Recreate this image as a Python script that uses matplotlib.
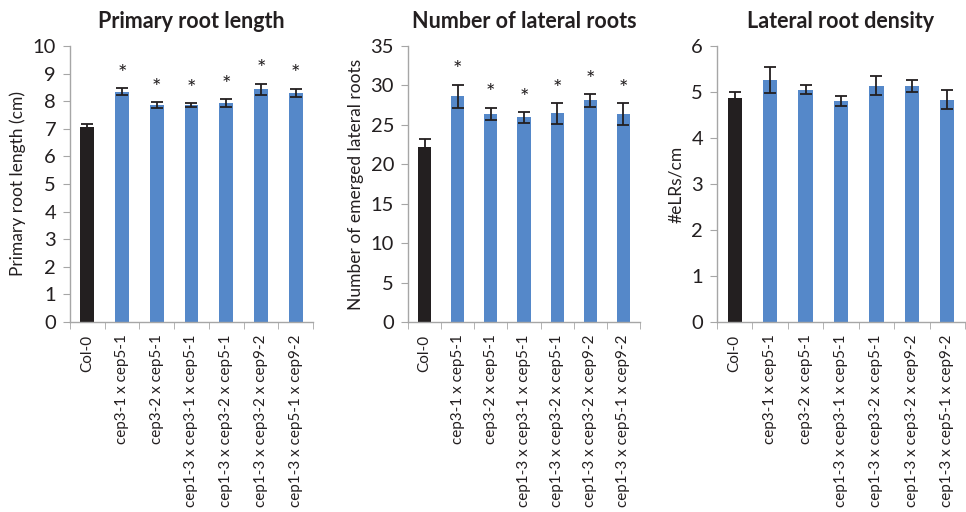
import numpy as np
import matplotlib
matplotlib.use("Agg")
import matplotlib.pyplot as plt

plt.rcParams['font.family'] = ['Lato', 'DejaVu Sans']

genotypes = ["Col-0", "cep3-1 x cep5-1", "cep3-2 x cep5-1",
             "cep1-3 x cep3-1 x cep5-1", "cep1-3 x cep3-2 x cep5-1",
             "cep1-3 x cep3-2 x cep9-2", "cep1-3 x cep5-1 x cep9-2"]

root_length = [7.08, 8.35, 7.87, 7.86, 7.93, 8.44, 8.31]
root_length_err = [0.11, 0.12, 0.11, 0.07, 0.15, 0.2, 0.15]
root_length_sig = [False, True, True, True, True, True, True]

lateral_roots = [22.2, 28.6, 26.4, 25.95, 26.45, 28.1, 26.35]
lateral_roots_err = [1.0, 1.5, 0.8, 0.7, 1.3, 0.85, 1.4]
lateral_roots_sig = [False, True, True, True, True, True, True]

lr_density = [4.87, 5.26, 5.05, 4.81, 5.14, 5.13, 4.83]
lr_density_err = [0.12, 0.29, 0.1, 0.11, 0.2, 0.13, 0.21]
lr_density_sig = [False] * 7

BLUE = "#5588c9"
BLACK = "#231f20"
SPINE = "#a6a6a6"
TEXT = "#231f20"

W, H = 966, 512
fig = plt.figure(figsize=(W / 100, H / 100), dpi=100)

panels = [
    dict(title="Primary root length", ylabel="Primary root length (cm)",
         vals=root_length, err=root_length_err, sig=root_length_sig,
         ylim=10, step=1, box=(70, 313)),
    dict(title="Number of lateral roots", ylabel="Number of emerged lateral roots",
         vals=lateral_roots, err=lateral_roots_err, sig=lateral_roots_sig,
         ylim=35, step=5, box=(408, 640)),
    dict(title="Lateral root density", ylabel="#eLRs/cm",
         vals=lr_density, err=lr_density_err, sig=lr_density_sig,
         ylim=6, step=1, box=(717, 965)),
]

top_px, bottom_px = 46, 322

for p in panels:
    l, r = p["box"]
    ax = fig.add_axes([l / W, 1 - bottom_px / H, (r - l) / W, (bottom_px - top_px) / H])
    x = np.arange(len(genotypes))
    colors = [BLACK] + [BLUE] * (len(genotypes) - 1)
    ax.bar(x, p["vals"], width=0.4, color=colors, zorder=2)
    ax.errorbar(x, p["vals"], yerr=p["err"], fmt="none", ecolor=BLACK,
                elinewidth=1.3, capsize=4, capthick=1.3, zorder=3)
    for xi, v, e, s in zip(x, p["vals"], p["err"], p["sig"]):
        if s:
            ax.annotate("*", (xi, v + e), xytext=(0, 3), textcoords="offset points",
                        ha="center", va="bottom", fontsize=16, color=TEXT)
    ax.set_xlim(-0.5, len(genotypes) - 0.5)
    ax.set_ylim(0, p["ylim"])
    ax.set_yticks(np.arange(0, p["ylim"] + 0.001, p["step"]))
    ax.set_xticks(x)
    ax.set_xticklabels(genotypes, rotation=90, fontsize=11, color=TEXT)
    ax.set_xticks(np.arange(-0.5, len(genotypes), 1), minor=True)
    ax.tick_params(axis="x", which="major", length=0, pad=9)
    ax.tick_params(axis="x", which="minor", length=5, color=SPINE, direction="out")
    ax.tick_params(axis="y", length=5, color=SPINE, labelsize=14.5, labelcolor=TEXT, pad=5)
    for side in ("top", "right"):
        ax.spines[side].set_visible(False)
    for side in ("left", "bottom"):
        ax.spines[side].set_color(SPINE)
        ax.spines[side].set_linewidth(1.0)
    ax.set_ylabel(p["ylabel"], fontsize=12.5, color=TEXT, labelpad=5)
    ax.set_title(p["title"], fontsize=15.5, fontweight="bold", color=TEXT, pad=13)

fig.savefig("out.png", dpi=100)
